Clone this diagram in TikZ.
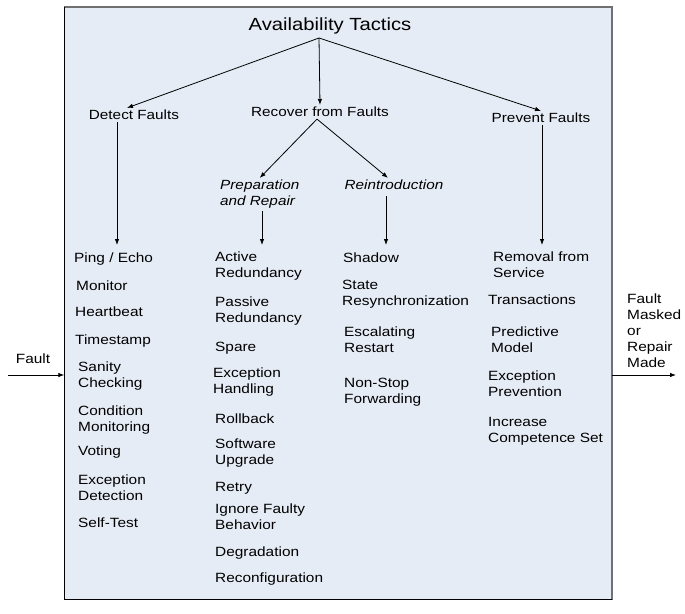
\documentclass[tikz,border=0pt]{standalone}
\usepackage{fontspec}
\setmainfont{Liberation Sans}[FakeStretch=1.15]
\usetikzlibrary{arrows.meta}
\definecolor{boxfill}{RGB}{230,236,246}
\definecolor{boxline}{RGB}{112,112,112}
\begin{document}
\begin{tikzpicture}[x=1pt, y=-1pt,
  arr/.style={-{Latex[length=6pt,width=4.5pt]}, line width=0.8pt},
  item/.style={anchor=north west, inner sep=0pt, align=left, font=\fontsize{13.4}{16}\selectfont},
  head/.style={inner sep=2pt, font=\fontsize{13.3}{16}\selectfont},
  sub/.style={inner sep=2pt, align=left, font=\fontsize{13.3}{16}\selectfont\itshape}]

\useasboundingbox (0,0) rectangle (685,613);

\node[fill=boxfill, minimum width=547.5pt, minimum height=592pt, inner sep=0pt] (box) at (338.25,303.5) {};
\draw[boxline, line width=2pt] (box.north west) -- (box.north east) -- (box.south east);
\draw[black, line width=1pt] (box.north west) -- (box.south west) -- (box.south east);

\node[anchor=base, font=\fontsize{17.6}{20}\selectfont] (tactics) at (330,30) {Availability Tactics};
\coordinate (hub) at (319,38);

\node[head] (detect) at (134,115) {Detect Faults};
\node[head] (recover) at (320,112) {Recover from Faults};
\node[head] (prevent) at (541,118) {Prevent Faults};

\draw[arr] (hub) -- ([xshift=-7pt]detect.north);
\draw[arr] (hub) -- (recover.north);
\draw[arr] (hub) -- (prevent.north);

\node[sub, anchor=north west] (prep) at (218,178) {Preparation\\and Repair};
\node[sub] (reintro) at (394,185) {Reintroduction};

\draw[arr] ([xshift=-3pt]recover.south) -- (prep.north);
\draw[arr] ([xshift=-3pt]recover.south) -- ([xshift=-6pt]reintro.north);

\coordinate (detect-end) at (117,245);
\coordinate (prep-end) at (262,245);
\coordinate (reintro-end) at (386,245);
\coordinate (prevent-end) at (542,245);
\draw[arr] (detect.south -| detect-end) -- (detect-end);
\draw[arr] (prep.south -| prep-end) -- (prep-end);
\draw[arr, shorten <=4pt] (reintro.south -| reintro-end) -- (reintro-end);
\draw[arr] (prevent.south -| prevent-end) -- (prevent-end);

\node[item] (ping) at (74,253) {Ping / Echo};
\node[item] (monitor) at (76,281) {Monitor};
\node[item] (heartbeat) at (75,307) {Heartbeat};
\node[item] (timestamp) at (75,335) {Timestamp};
\node[item] (sanity) at (78,362) {Sanity\\Checking};
\node[item] (condition) at (78,406) {Condition\\Monitoring};
\node[item] (voting) at (78,446) {Voting};
\node[item] (detection) at (78,475) {Exception\\Detection};
\node[item] (selftest) at (78,518) {Self-Test};

\node[item] (active) at (215,252) {Active\\Redundancy};
\node[item] (passive) at (215,297) {Passive\\Redundancy};
\node[item] (spare) at (215,342) {Spare};
\node[item] (handling) at (213,368) {Exception\\Handling};
\node[item] (rollback) at (215,414) {Rollback};
\node[item] (upgrade) at (215,439) {Software\\Upgrade};
\node[item] (retry) at (215,482) {Retry};
\node[item] (ignore) at (215,504) {Ignore Faulty\\Behavior};
\node[item] (degradation) at (215,547) {Degradation};
\node[item] (reconfig) at (215,573) {Reconfiguration};

\node[item] (shadow) at (343,253) {Shadow};
\node[item] (resync) at (342,280) {State\\Resynchronization};
\node[item] (restart) at (344,327) {Escalating\\Restart};
\node[item] (nonstop) at (344,378) {Non-Stop\\Forwarding};

\node[item] (removal) at (493,252) {Removal from\\Service};
\node[item] (transactions) at (488,295) {Transactions};
\node[item] (predictive) at (491,327) {Predictive\\Model};
\node[item] (prevention) at (488,371) {Exception\\Prevention};
\node[item] (competence) at (488,417) {Increase\\Competence Set};

\node[font=\fontsize{13.4}{16}\selectfont, inner sep=0pt] (fault) at (33,359) {Fault};
\coordinate (fault-in) at (8,375);
\draw[arr] (fault-in) -- (fault-in -| box.west);

\node[item] (masked) at (627,294) {Fault\\Masked\\or\\Repair\\Made};
\coordinate (fault-out) at (676,375);
\draw[arr] (fault-out -| box.east) -- (fault-out);

\end{tikzpicture}
\end{document}
